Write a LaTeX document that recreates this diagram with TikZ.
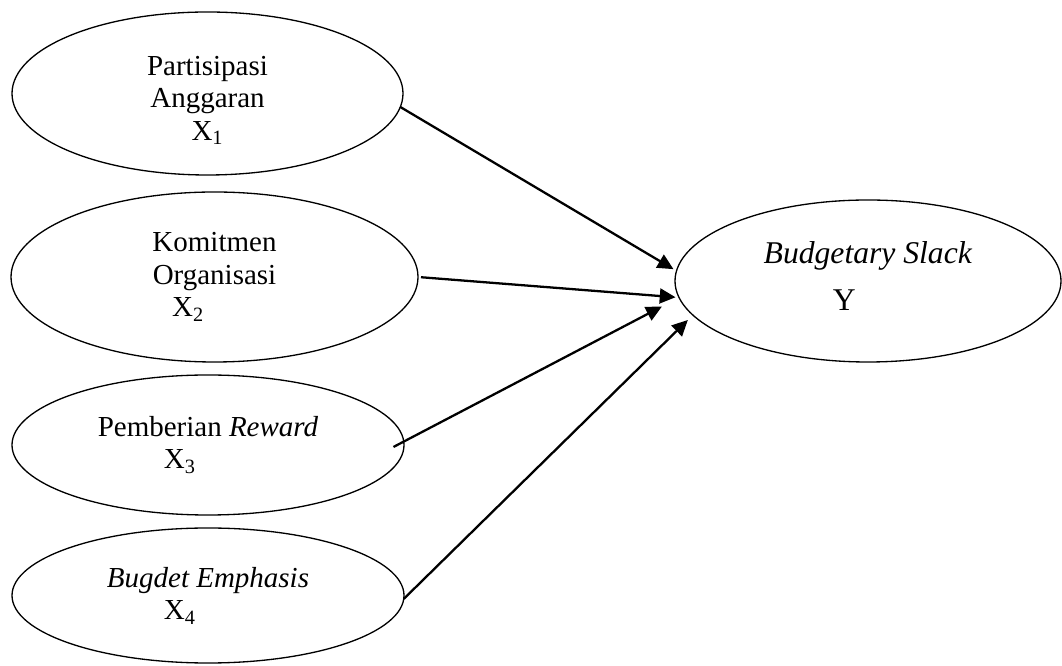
\documentclass[tikz,border=0pt]{standalone}
\usepackage{fontspec}
\setmainfont{Liberation Serif}
\usetikzlibrary{arrows.meta,shapes.geometric}
\tikzset {
  >={Triangle[length=9pt,width=8.5pt]},
  every node/.style={font=\fontsize{16.5}{18.5}\selectfont},
  var/.style={draw,ellipse,line width=0.75pt,inner sep=0pt,outer sep=0pt,align=center},
  link/.style={->,line width=1.3pt},
}

\begin{document}
\begin{tikzpicture}
          \useasboundingbox (0,0) rectangle (21.24,-13.32);

          \node[var,minimum width=7.82cm,minimum height=3.26cm,text height=56pt] (x1) at (4.15,-1.87)
            {Partisipasi\\Anggaran\\X\textsubscript{1}};
          \node[var,minimum width=8.14cm,minimum height=3.40cm] (x2) at (4.29,-5.54)
            {Komitmen\\Organisasi\\\hspace*{-30pt}X\textsubscript{2}};
          \node[var,minimum width=7.84cm,minimum height=2.80cm] (x3) at (4.16,-8.90)
            {Pemberian \textit{Reward}\\\hspace*{-32pt}X\textsubscript{3}};
          \node[var,minimum width=7.84cm,minimum height=2.70cm] (x4) at (4.16,-11.91)
            {\textit{Bugdet Emphasis}\\\hspace*{-32pt}X\textsubscript{4}};

          \node[var,minimum width=7.72cm,minimum height=3.24cm,text depth=5.5pt,font=\fontsize{18}{19}\selectfont] (y) at (17.36,-5.62)
            {\textit{Budgetary Slack}\\[7.6pt]\hspace*{-27pt}Y};

          \draw[link,shorten >=2pt] (x1.-4) -- (y.177);
          \draw[link,shorten <=1.7pt,shorten >=2pt] (x2.0) -- (y.185);
          \draw[link,shorten <=-6.6pt,shorten >=11pt] (x3.1.5) -- (y.185.6);
          \draw[link,shorten >=4pt] (x4.-1) -- (y.191.8);
        \end{tikzpicture}
\end{document}
